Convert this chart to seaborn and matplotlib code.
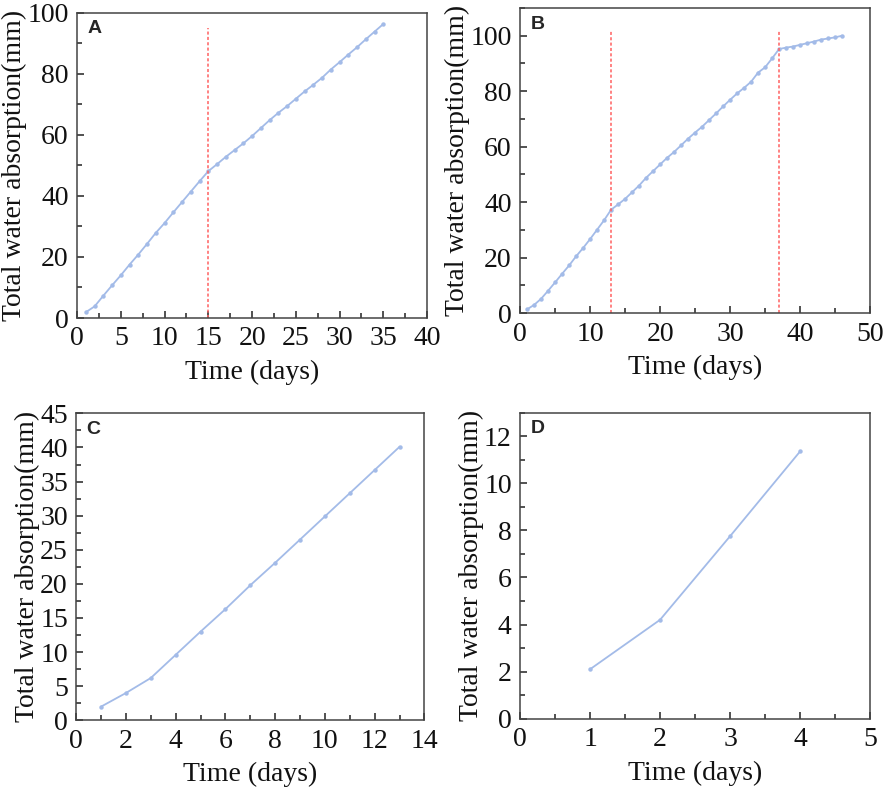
import numpy as np
import pandas as pd
import seaborn as sns
import matplotlib.pyplot as plt
from matplotlib.ticker import MultipleLocator

sns.set_style("ticks")
plt.rcParams['font.family'] = ['Liberation Serif', 'DejaVu Serif']
plt.rcParams['xtick.direction'] = 'in'
plt.rcParams['ytick.direction'] = 'in'
plt.rcParams['xtick.minor.visible'] = True
plt.rcParams['ytick.minor.visible'] = True

# panel A
days_a = list(range(1, 36))
water_a = [1.9, 3.8, 7.3, 10.7, 14.0, 17.5, 20.8, 24.3, 27.9, 31.1, 34.6, 38.0,
           41.4, 44.8, 48.1, 50.4, 52.8, 55.0, 57.2, 59.6, 62.2, 64.8, 67.2, 69.4,
           71.8, 74.2, 76.4, 78.7, 81.4, 83.8, 86.3, 88.7, 91.3, 93.8, 96.3]
breaks_a = [15]

# panel B
days_b = list(range(1, 47))
water_b = [1.4, 3.0, 5.2, 8.1, 11.1, 14.2, 17.2, 20.5, 23.5, 26.7, 30.1, 33.5,
           37.3, 39.2, 41.2, 43.6, 46.0, 48.8, 51.2, 53.6, 56.0, 58.1, 60.5, 62.9,
           65.1, 67.2, 69.6, 72.0, 74.5, 76.9, 79.2, 81.2, 83.4, 86.7, 88.6, 91.8,
           95.2, 95.7, 96.1, 96.7, 97.3, 97.9, 98.6, 99.0, 99.4, 100.0]
breaks_b = [13, 37]

# panel C
days_c = list(range(1, 14))
water_c = [2.0, 4.0, 6.2, 9.6, 13.0, 16.3, 19.8, 23.1, 26.5, 29.9, 33.3, 36.7, 40.1]

# panel D
days_d = [1, 2, 3, 4]
water_d = [2.1, 4.2, 7.75, 11.35]

panels = [
    # letter, days, water, breaks, xlim, xmaj, xmin, ylim, ymaj, ymin, break top, rect
    ("A", days_a, water_a, breaks_a, (0, 40), 5, 2.5, (0, 100), 20, 10, 95,
     [0.087, 0.600, 0.395, 0.384]),
    ("B", days_b, water_b, breaks_b, (0, 50), 10, 5, (0, 110), 20, 10, 102,
     [0.587, 0.606, 0.395, 0.384]),
    ("C", days_c, water_c, [], (0, 14), 2, 1, (0, 45), 5, 2.5, None,
     [0.086, 0.094, 0.393, 0.386]),
    ("D", days_d, water_d, [], (0, 5), 1, 0.5, (0, 13), 2, 1, None,
     [0.587, 0.096, 0.395, 0.385]),
]

fig = plt.figure(figsize=(8.86, 7.95), dpi=100)

for letter, d, w, brk, xl, xmaj, xmin, yl, ymaj, ymin, btop, rect in panels:
    ax = fig.add_axes(rect)
    df = pd.DataFrame({"day": d, "water": w})
    sns.lineplot(data=df, x="day", y="water", ax=ax, color="#a3bbe8",
                 linewidth=1.3, marker="o", markersize=3.2, markeredgewidth=0)
    for b in brk:
        ax.vlines(b, 0, btop, colors="#ff6060", linestyles=(0, (2, 1.5)), linewidth=1.1)
    ax.set_xlim(*xl)
    ax.set_ylim(*yl)
    ax.xaxis.set_major_locator(MultipleLocator(xmaj))
    ax.xaxis.set_minor_locator(MultipleLocator(xmin))
    ax.yaxis.set_major_locator(MultipleLocator(ymaj))
    ax.yaxis.set_minor_locator(MultipleLocator(ymin))
    ax.tick_params(which="major", bottom=True, left=True, top=False, right=False,
                   length=5, width=1.2, labelsize=20, colors="#333333",
                   labelcolor="#111111", pad=6)
    ax.tick_params(which="minor", bottom=True, left=True, top=False, right=False,
                   length=3.5, width=1.2, colors="#333333")
    for s in ax.spines.values():
        s.set_color("#444444")
        s.set_linewidth(1.1)
    ax.set_xlabel("Time (days)", fontsize=20, color="#111111", labelpad=6)
    ax.set_ylabel("Total water absorption(mm)", fontsize=20, color="#111111", labelpad=0)
    ax.text(0.03, 0.975, letter, transform=ax.transAxes, ha="left", va="top",
            fontsize=14, fontweight="bold", family=["Liberation Sans", "DejaVu Sans"])

fig.savefig("out.png", dpi=100)
